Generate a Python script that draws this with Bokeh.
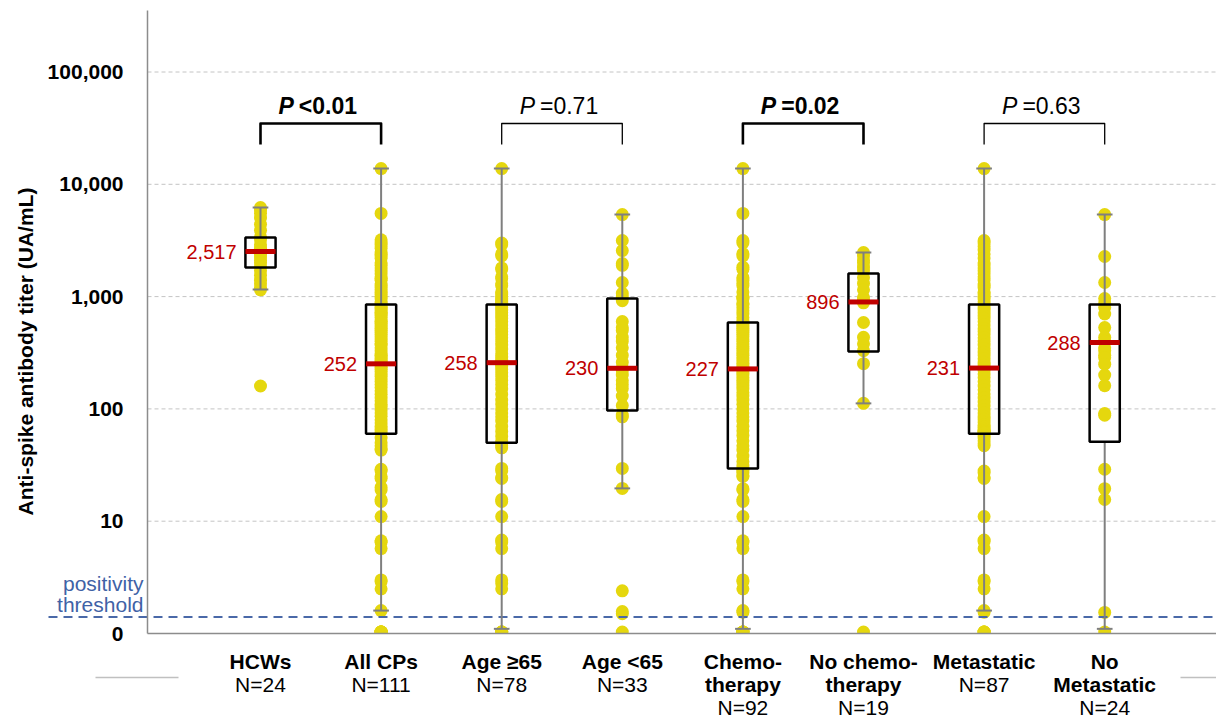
import math
from bokeh.plotting import figure
from bokeh.models import Range1d, LogScale
from bokeh.core.properties import value
from bokeh.embed import file_html
from bokeh.resources import INLINE

# ---------------- data ----------------
cat_line1 = ["HCWs", "All CPs", "Age \u226565", "Age <65", "Chemo-", "No chemo-", "Metastatic", "No"]
cat_line2 = ["", "", "", "", "therapy", "therapy", "", "Metastatic"]
n_labels = ["N=24", "N=111", "N=78", "N=33", "N=92", "N=19", "N=87", "N=24"]

hcws = [6200, 5900, 5500, 5000, 4400, 3900, 3400, 3200, 2900, 2700, 2550, 2500,
        2400, 2250, 2100, 2000, 1850, 1700, 1550, 1400, 1300, 1200, 1150, 160]

all_cps = [13800, 5500,
           3200, 3000, 2900, 2700, 2500, 2400, 2300, 2200, 2000, 1900, 1800, 1700, 1600,
           1500, 1450, 1400, 1300, 1250, 1200, 1150, 1100, 1050, 1000, 950, 900, 870,
           830, 800, 780, 750, 720, 700, 680, 650, 620, 600, 580, 560, 540, 520, 500,
           480, 460, 440, 420, 400, 380, 370, 350, 330, 310, 300, 290, 280, 270, 260,
           252, 245, 235, 225, 215, 205, 195, 185, 175, 165, 155, 145, 135, 125, 118,
           110, 104, 98, 92, 86, 80, 75, 70, 66, 62,
           55, 50, 47, 44, 43, 29, 28, 25, 24, 20, 19, 15.6, 15, 11, 6.7, 6.5, 5.7,
           3.0, 2.9, 2.5, 1.6, 0, 0, 0, 0, 0, 0, 0]

age_ge65 = [13800, 3000, 2900, 2400, 2300, 1800, 1750, 1500, 1450, 1300, 1250, 1100,
            1050, 1000, 950, 920, 900, 880, 860,
            840, 800, 760, 720, 680, 640, 600, 560, 520, 490, 460, 430, 400, 370, 340,
            310, 290, 275, 262, 258, 250, 240, 225, 210, 195, 180, 165, 150, 135, 120,
            110, 100, 92, 85, 78, 70, 63, 57, 52,
            49, 47, 45, 29.5, 28, 24.5, 24, 15.6, 15, 11, 6.8, 6.5, 5.7, 3.0, 2.8, 2.5,
            0, 0, 0, 0]

age_lt65 = [5380, 3160, 2570, 1970, 1900, 1335, 1070, 1000,
            920, 600, 530, 500, 434, 400, 350, 300, 260, 232, 219, 200, 179, 165, 152,
            130, 107,
            88, 85, 29.5, 19.6, 2.4, 1.57, 1.5, 0]

chemo = [13800, 5500, 3160, 3000, 2420, 2300, 1830, 1750, 1480, 1400, 1310, 1250, 1100,
         1000, 980, 950, 870, 850, 800, 750, 700, 650, 610,
         580, 560, 540, 520, 500, 480, 460, 440, 420, 400, 380, 360, 345, 330, 315, 300,
         285, 270, 255, 240, 227, 220, 210, 200, 190, 180, 170, 160, 150, 140, 130, 120,
         110, 100, 92, 85, 78, 70, 64, 58, 52, 47, 43, 38, 34, 31,
         29, 28, 27, 25.5, 25, 19.5, 19, 15.6, 15, 11, 6.7, 6.5, 5.7, 3.0, 2.9, 2.5,
         1.6, 1.55, 0, 0, 0, 0, 0]

no_chemo = [2470, 2300, 2100, 2000, 1830, 1700, 1480, 1310, 1150, 980, 923, 880, 588,
            434, 380, 330, 253, 112, 0]

metastatic = [13800, 3160, 3000, 2800, 2600, 2400, 2200, 2000, 1900, 1800, 1700, 1600,
              1500, 1400, 1300, 1250, 1200, 1100, 1050, 1000, 950, 900,
              840, 800, 760, 720, 680, 640, 600, 560, 520, 490, 460, 430, 400, 370, 345,
              320, 300, 280, 260, 245, 231, 220, 205, 190, 175, 160, 148, 136, 125, 115,
              106, 98, 92, 86, 81, 76, 72, 69, 66, 64, 63, 62, 61,
              58, 55, 52, 49, 47, 28, 27, 24.5, 24, 11, 6.8, 6.6, 5.7, 3.0, 2.9, 2.5,
              1.6, 1.55, 0, 0, 0, 0]

no_metastatic = [5380, 2275, 1335, 960, 870, 800, 700, 530, 434, 400, 350, 330, 300, 286,
                 250, 200, 161, 91, 88, 29, 19.5, 15.6, 1.54, 0]

groups = [hcws, all_cps, age_ge65, age_lt65, chemo, no_chemo, metastatic, no_metastatic]

q1 = [1815, 60, 50, 97, 29.5, 324, 60, 51]
medians = [2517, 252, 258, 230, 227, 896, 231, 390]
q3 = [3360, 851, 851, 962, 588, 1607, 851, 851]
whisker_hi = [6210, 13800, 13800, 5380, 13800, 2470, 13800, 5380]
whisker_lo = [1157, 1.6, 1.1, 19.6, 1.1, 112, 1.6, 1.1]
median_labels = ["2,517", "252", "258", "230", "227", "896", "231", "288"]

pairs = [(0, 1), (2, 3), (4, 5), (6, 7)]
p_texts = ["<0.01", "=0.71", "=0.02", "=0.63"]
p_bold = [True, False, True, False]

tick_vals = [1, 10, 100, 1000, 10000, 100000]
tick_labels = ["0", "10", "100", "1,000", "10,000", "100,000"]
threshold = 1.4
zero_plot_at = 1.03
axis_min = 1

# ---------------- layout helpers (canvas pixel -> data) ----------------
PX0, PXU, PY0, PYD = 260.0, 120.6, 633.0, 112.3
def xv(px):
    return (px - PX0) / PXU
def yv(py):
    return 10 ** ((PY0 - py) / PYD)

FONT = value("Liberation Sans")
YELLOW = "#e5d70e"
RED = "#c00000"
GREY = "#7f7f7f"
AXIS = "#8c8c8c"
BLUE = "#3f62a6"

W, H = 1216, 720
p = figure(width=W, height=H,
           x_range=Range1d(xv(0), xv(W)),
           y_range=Range1d(yv(H), yv(0)),
           y_axis_type="log", x_axis_location=None, y_axis_location=None,
           output_backend="svg", toolbar_location=None, min_border=0)
p.y_scale = LogScale()
p.outline_line_color = None
p.grid.visible = False
p.background_fill_color = "white"
p.border_fill_color = "white"

XL, XR = xv(147), xv(W)
YTOP = yv(10)

# gridlines
gv = tick_vals[1:]
p.segment(x0=[XL] * len(gv), x1=[XR] * len(gv), y0=gv, y1=gv,
          line_color="#c4c4c4", line_width=1, line_dash="4 3")

# points
px, py = [], []
for i, g in enumerate(groups):
    for v in g:
        px.append(i)
        py.append(v if v > 0 else zero_plot_at)
p.scatter(x=px, y=py, size=13, fill_color=YELLOW, line_color=None)

# clip points below the axis floor
p.quad(left=[XL], right=[XR], bottom=[yv(H)], top=[axis_min], fill_color="white", line_color=None)

# threshold line
p.segment(x0=[xv(48)], x1=[XR], y0=[threshold], y1=[threshold],
          line_color="#4a69a8", line_width=2, line_dash="9 6")

# axis lines
p.segment(x0=[XL, XL], x1=[XL, XR], y0=[axis_min, axis_min], y1=[YTOP, axis_min],
          line_color=AXIS, line_width=1.5)

# small grey rules under the axis
p.segment(x0=[xv(95), xv(1180)], x1=[xv(178), xv(W)], y0=[yv(677)] * 2, y1=[yv(677)] * 2,
          line_color="#c0c0c0", line_width=1.5)

# y tick labels
p.text(x=[xv(123)] * len(tick_vals), y=tick_vals, text=tick_labels, text_align="right",
       text_baseline="middle", text_font=FONT, text_font_size="21px",
       text_font_style="bold", text_color="black")

# y axis title
p.text(x=[xv(25)], y=[yv(351)], text=["Anti-spike antibody titer (UA/mL)"], angle=math.pi / 2,
       text_align="center", text_baseline="middle", text_font=FONT, text_font_size="21px",
       text_font_style="bold", text_color="black")

# positivity threshold text
p.text(x=[xv(143)] * 2, y=[yv(583), yv(604)], text=["positivity", "threshold"],
       text_align="right", text_baseline="middle", text_font=FONT, text_font_size="21px",
       text_color=BLUE)

idx = list(range(len(groups)))
bw = 0.25
cw = 0.065
# whiskers
p.segment(x0=idx, x1=idx, y0=q3, y1=whisker_hi, line_color=GREY, line_width=2)
p.segment(x0=idx, x1=idx, y0=whisker_lo, y1=q1, line_color=GREY, line_width=2)
p.segment(x0=[i - cw for i in idx], x1=[i + cw for i in idx], y0=whisker_hi, y1=whisker_hi,
          line_color=GREY, line_width=2)
p.segment(x0=[i - cw for i in idx], x1=[i + cw for i in idx], y0=whisker_lo, y1=whisker_lo,
          line_color=GREY, line_width=2)
# boxes
p.vbar(x=idx, width=bw, top=q3, bottom=q1, fill_color=None, line_color="black", line_width=2.5)
# medians
p.segment(x0=[i - bw / 2 for i in idx], x1=[i + bw / 2 for i in idx], y0=medians, y1=medians,
          line_color=RED, line_width=5)
p.text(x=idx, y=medians, text=median_labels, x_offset=-24, text_align="right",
       text_baseline="middle", text_color=RED, text_font=FONT, text_font_size="20px")

# brackets & p-values
yt, yb = yv(123), yv(144)
for (a, b), txt, bold in zip(pairs, p_texts, p_bold):
    p.line(x=[a, a, b, b], y=[yb, yt, yt, yb], line_color="black",
           line_width=2.6 if bold else 1.3, line_join="round")
    c = (a + b) / 2
    p.text(x=[c], y=[yv(105)], text=["P"], x_offset=-27, text_align="right",
           text_baseline="middle", text_font=FONT, text_font_size="23px",
           text_font_style="bold italic" if bold else "italic", text_color="black")
    p.text(x=[c], y=[yv(105)], text=[txt], x_offset=-22, text_align="left",
           text_baseline="middle", text_font=FONT, text_font_size="23px",
           text_font_style="bold" if bold else "normal", text_color="black")

# category labels
p.text(x=idx, y=[yv(661)] * len(idx), text=cat_line1, text_align="center",
       text_baseline="middle", text_font=FONT, text_font_size="21px",
       text_font_style="bold", text_color="black")
i2 = [i for i in idx if cat_line2[i]]
p.text(x=i2, y=[yv(684)] * len(i2), text=[cat_line2[i] for i in i2], text_align="center",
       text_baseline="middle", text_font=FONT, text_font_size="21px",
       text_font_style="bold", text_color="black")
p.text(x=idx, y=[yv(707) if cat_line2[i] else yv(684) for i in idx], text=n_labels,
       text_align="center", text_baseline="middle", text_font=FONT, text_font_size="21px",
       text_color="black")

open("out.html", "w").write(file_html(p, INLINE))
